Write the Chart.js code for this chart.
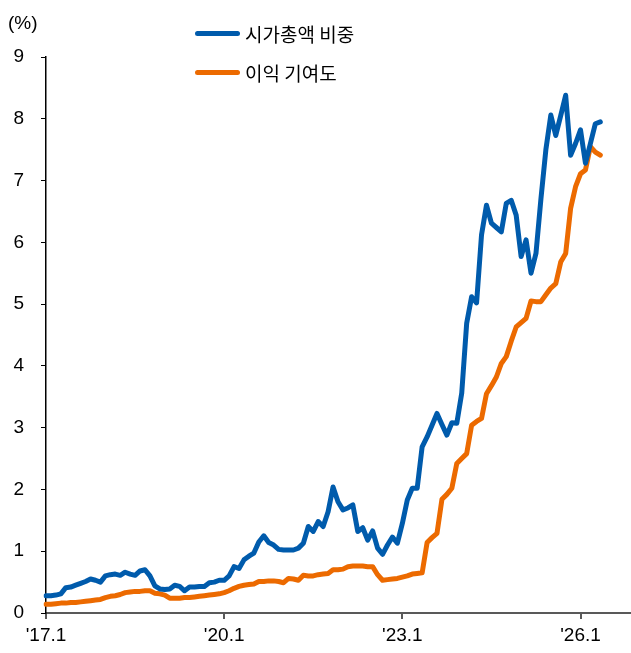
<!DOCTYPE html>
<html>
<head>
<meta charset="utf-8">
<script src="https://cdn.jsdelivr.net/npm/chart.js@4/dist/chart.umd.min.js"></script>
<style>
  body { margin: 0; background: #fff; }
  .wrap { position: relative; width: 631px; height: 653px; font-family: "Liberation Sans", Arial, "Noto Sans CJK KR", sans-serif; }
  .unit { position: absolute; left: 8px; top: 12px; font-size: 19px; color: #000; }
  .legend { position: absolute; left: 195px; top: 14px; font-size: 19px; color: #000; font-family: "Noto Sans CJK KR", "Liberation Sans", sans-serif; }
  .legend div { height: 39px; display: flex; align-items: center; }
  .legend span.swatch { display: inline-block; width: 45px; height: 5px; border-radius: 3px; margin-right: 5px; }
</style>
</head>
<body>
<div class="wrap">
  <canvas id="graphic" width="631" height="653"></canvas>
  <div class="unit">(%)</div>
  <div class="legend"></div>
</div>
<script>
const seriesNames = ["시가총액 비중", "이익 기여도"];
const seriesColors = ["#005BAC", "#EC6A00"];

// '17.1 ~ '26.5 월별
const marketCapShare = [
  0.28, 0.28, 0.29, 0.31, 0.41, 0.42, 0.45, 0.48, 0.51, 0.55, 0.53, 0.50,
  0.60, 0.62, 0.63, 0.61, 0.66, 0.63, 0.61, 0.68, 0.70, 0.60, 0.44, 0.39,
  0.38, 0.39, 0.45, 0.43, 0.36, 0.42, 0.42, 0.43, 0.43, 0.49, 0.50, 0.53,
  0.53, 0.60, 0.75, 0.72, 0.86, 0.92, 0.97, 1.15, 1.25, 1.14, 1.10, 1.03,
  1.02, 1.02, 1.02, 1.05, 1.13, 1.40, 1.32, 1.48, 1.40, 1.64, 2.04, 1.80,
  1.67, 1.70, 1.75, 1.32, 1.38, 1.18, 1.33, 1.05, 0.95, 1.10, 1.23, 1.13,
  1.45, 1.83, 2.02, 2.02, 2.69, 2.85, 3.04, 3.23, 3.05, 2.88, 3.08, 3.07,
  3.56, 4.69, 5.12, 5.02, 6.12, 6.60, 6.31, 6.24, 6.17, 6.63, 6.68, 6.44,
  5.77, 6.04, 5.50, 5.82, 6.70, 7.50, 8.06, 7.73, 8.05, 8.38, 7.41, 7.60,
  7.82, 7.28, 7.60, 7.92, 7.95
];
const profitContribution = [
  0.14, 0.14, 0.15, 0.16, 0.16, 0.17, 0.17, 0.18, 0.19, 0.20, 0.21, 0.22,
  0.25, 0.27, 0.28, 0.30, 0.33, 0.34, 0.35, 0.35, 0.36, 0.36, 0.32, 0.31,
  0.29, 0.24, 0.24, 0.24, 0.25, 0.25, 0.26, 0.27, 0.28, 0.29, 0.30, 0.31,
  0.33, 0.36, 0.40, 0.43, 0.45, 0.46, 0.47, 0.51, 0.51, 0.52, 0.52, 0.51,
  0.49, 0.56, 0.55, 0.53, 0.61, 0.60, 0.60, 0.62, 0.63, 0.64, 0.70, 0.70,
  0.71, 0.75, 0.76, 0.76, 0.76, 0.75, 0.75, 0.62, 0.53, 0.54, 0.55, 0.56,
  0.58, 0.60, 0.63, 0.64, 0.65, 1.14, 1.22, 1.29, 1.84, 1.92, 2.02, 2.42,
  2.50, 2.58, 3.04, 3.10, 3.15, 3.55, 3.68, 3.82, 4.04, 4.15, 4.40, 4.63,
  4.70, 4.77, 5.05, 5.04, 5.04, 5.15, 5.26, 5.33, 5.68, 5.82, 6.55, 6.90,
  7.11, 7.17, 7.55, 7.46, 7.41
];

// x축: '17.1 ~ '26.11 (빈 달 포함)
const months = [];
for (let y = 17; y <= 26; y++) {
  for (let m = 1; m <= 12; m++) {
    if (y === 26 && m > 11) break;
    months.push(`'${y}.${m}`);
  }
}
const tickLabels = ["'17.1", "'20.1", "'23.1", "'26.1"];

const legend = document.querySelector(".legend");
legend.innerHTML = seriesNames
  .map((name, i) => `<div><span class="swatch" style="background:${seriesColors[i]}"></span>${name}</div>`)
  .join("");

const data = {
  labels: months,
  datasets: [
    { label: seriesNames[0], data: marketCapShare, borderColor: seriesColors[0] },
    { label: seriesNames[1], data: profitContribution, borderColor: seriesColors[1] },
  ].map((d) => ({
    ...d,
    borderWidth: 5,
    pointRadius: 0,
    tension: 0,
    fill: false,
    borderJoinStyle: "round",
    borderCapStyle: "round",
  })),
};

const config = {
  type: "line",
  data,
  options: {
    responsive: false,
    animation: false,
    layout: { padding: { top: 57, right: 1, left: 0, bottom: 0 } },
    plugins: { legend: { display: false }, tooltip: { enabled: false } },
    scales: {
      x: {
        offset: false,
        afterFit: (s) => { s.height = 40; },
        border: { color: "#595959", width: 2 },
        grid: { drawOnChartArea: false, tickLength: 6, color: "#595959", lineWidth: 2 },
        ticks: {
          autoSkip: false,
          maxRotation: 0,
          padding: 5,
          color: "#000",
          font: { family: "'Liberation Sans', Arial", size: 19 },
          callback: function (value) {
            const lbl = this.getLabelForValue(value);
            return tickLabels.includes(lbl) ? lbl : null;
          },
        },
      },
      y: {
        min: 0,
        max: 9,
        afterFit: (s) => { s.width = 46; },
        border: { color: "#000", width: 1.5 },
        grid: { drawOnChartArea: false, tickLength: 5, color: "#000" },
        ticks: {
          stepSize: 1,
          padding: 17,
          color: "#000",
          font: { family: "'Liberation Sans', Arial", size: 19 },
        },
      },
    },
  },
};

const ctx = document.getElementById("graphic").getContext("2d");
new Chart(ctx, config);
</script>
</body>
</html>
